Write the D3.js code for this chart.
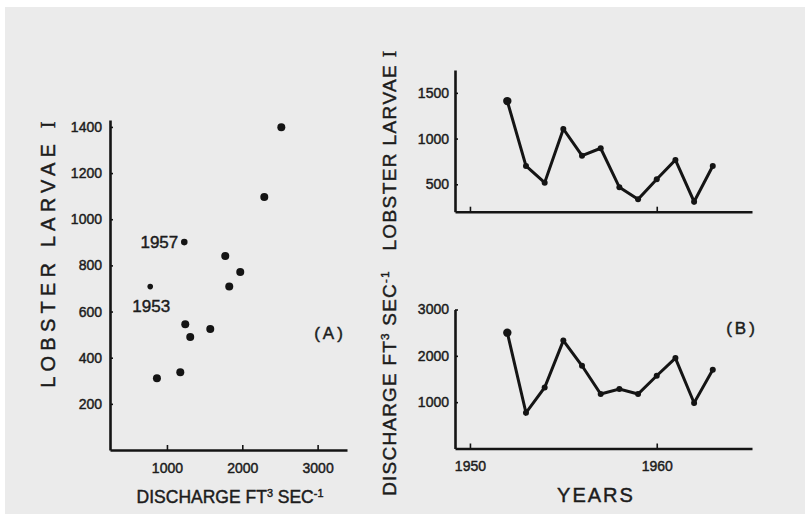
<!DOCTYPE html>
<html>
<head>
<meta charset="utf-8">
<script src="https://cdn.jsdelivr.net/npm/d3@7"></script>
<style>
  html, body { margin: 0; padding: 0; background: #fff; }
  svg { display: block; }
  text { font-family: "Liberation Sans", Arial, sans-serif; fill: #1c1c1c; stroke: #1c1c1c; stroke-width: 0.45px; }
</style>
</head>
<body>
<div id="chart"></div>
<script>
"use strict";

// panel A: scatter, discharge vs larvae (one dot per year)
var scatterDischarge = [2518, 2292, 1230, 1774, 1973, 1827, 778, 1243, 1309, 1575, 1177, 867];
var scatterLarvae = [1399, 1096, 901, 841, 771, 708, 708, 545, 490, 524, 337, 311];
var scatterSize = [4, 4, 3.3, 4, 4, 4, 2.8, 4, 4, 4, 4, 4];
var scatterNotes = [{ label: "1957", index: 2 }, { label: "1953", index: 6 }];

// panel B: time series
var years = [1952, 1953, 1954, 1955, 1956, 1957, 1958, 1959, 1960, 1961, 1962, 1963];
var larvae = [1410, 700, 517, 1105, 813, 894, 467, 336, 554, 766, 309, 700];
var discharge = [2500, 770, 1318, 2329, 1785, 1176, 1284, 1176, 1570, 1951, 983, 1699];

var xTicksA = [1000, 2000, 3000];
var yTicksA = [200, 400, 600, 800, 1000, 1200, 1400];
var yearTicks = [1950, 1960];
var larvaeTicksB = [500, 1000, 1500];
var dischargeTicksB = [1000, 2000, 3000];

var width = 805, height = 514;
var ink = "#141414";

var svg = d3.select("#chart").append("svg")
    .attr("width", width)
    .attr("height", height);

svg.append("rect").attr("width", width).attr("height", height).attr("fill", "#fff");
svg.append("rect").attr("x", 5).attr("y", 7)
    .attr("width", width - 5).attr("height", height - 7)
    .attr("fill", "#ebebeb");

function styleAxis(g, size) {
    g.select(".domain").attr("stroke", ink).attr("stroke-width", 2.6);
    g.selectAll(".tick line").attr("stroke", ink).attr("stroke-width", 1.6);
    g.selectAll(".tick text")
        .attr("font-family", "Liberation Sans, Arial, sans-serif")
        .attr("font-size", size)
        .attr("fill", "#1c1c1c");
}

function rotatedLabel(cx, cy, len, parts, size) {
    var t = svg.append("text")
        .attr("transform", "translate(" + cx + "," + cy + ") rotate(-90)")
        .attr("text-anchor", "middle")
        .attr("dy", "0.36em")
        .attr("font-size", size)
        .attr("letter-spacing", len);
    parts(t);
    return t;
}

function larvaeText(t) {
    t.append("tspan").text("LOBSTER LARVAE ");
    t.append("tspan").attr("font-family", "Liberation Serif, serif").text("I");
}

function dischargeText(t) {
    var fs = parseFloat(t.attr("font-size"));
    t.append("tspan").text("DISCHARGE FT");
    t.append("tspan").attr("font-size", fs * 0.62).attr("dy", -fs * 0.34).text("3");
    t.append("tspan").attr("dy", fs * 0.34).text(" SEC");
    t.append("tspan").attr("font-size", fs * 0.62).attr("dy", -fs * 0.34).text("-1");
}

// ---------- panel A ----------
var xA = d3.scaleLinear().domain([244, 3390]).range([110, 347]);
var yA = d3.scaleLinear().domain([0, 1430]).range([450, 120]);

var axA = svg.append("g")
    .attr("transform", "translate(0," + yA(0) + ")")
    .call(d3.axisBottom(xA).tickValues(xTicksA).tickFormat(d3.format("d"))
        .tickSizeInner(-5).tickSizeOuter(0).tickPadding(13));
styleAxis(axA, 14);

var ayA = svg.append("g")
    .attr("transform", "translate(" + xA.range()[0] + ",0)")
    .call(d3.axisLeft(yA).tickValues(yTicksA).tickFormat(d3.format("d"))
        .tickSizeInner(-3).tickSizeOuter(0).tickPadding(8));
styleAxis(ayA, 14);

svg.append("g").selectAll("circle")
    .data(scatterDischarge)
    .join("circle")
    .attr("cx", d => xA(d))
    .attr("cy", (d, i) => yA(scatterLarvae[i]))
    .attr("r", (d, i) => scatterSize[i])
    .attr("fill", ink);

svg.append("text")
    .attr("x", xA(scatterDischarge[2]) - 6)
    .attr("y", yA(scatterLarvae[2]) + 6)
    .attr("text-anchor", "end")
    .attr("font-size", 17)
    .text(scatterNotes[0].label);

svg.append("text")
    .attr("x", xA(scatterDischarge[6]) + 1)
    .attr("y", yA(scatterLarvae[6]) + 25)
    .attr("text-anchor", "middle")
    .attr("font-size", 17)
    .text(scatterNotes[1].label);

svg.append("text")
    .attr("x", 330).attr("y", 339)
    .attr("text-anchor", "middle")
    .attr("font-size", 17)
    .attr("letter-spacing", 3)
    .text("(A)");

var xlabA = svg.append("text")
    .attr("x", 230).attr("y", 503)
    .attr("text-anchor", "middle")
    .attr("font-size", 17.5);
dischargeText(xlabA);

rotatedLabel(48, 252, 5.2, larvaeText, 20);

// ---------- panel B ----------
var xB = d3.scaleLinear().domain([1949.2, 1965.1]).range([455, 752]);
var yTop = d3.scaleLinear().domain([200, 1750]).range([211.7, 70]);
var yBot = d3.scaleLinear().domain([0, 3000]).range([448.5, 309.5]);

function timePanel(yScale, ticks, values, showYears) {
    var base = yScale.range()[0];
    var ax = svg.append("g")
        .attr("transform", "translate(0," + base + ")")
        .call(d3.axisBottom(xB).tickValues(yearTicks).tickFormat(d3.format("d"))
            .tickSizeInner(-5).tickSizeOuter(0).tickPadding(13));
    styleAxis(ax, 14);
    if (!showYears) ax.selectAll(".tick text").remove();

    var ay = svg.append("g")
        .attr("transform", "translate(" + xB.range()[0] + ",0)")
        .call(d3.axisLeft(yScale).tickValues(ticks).tickFormat(d3.format("d"))
            .tickSizeInner(-3).tickSizeOuter(0).tickPadding(6));
    styleAxis(ay, 14);

    var line = d3.line()
        .x((d, i) => xB(years[i]))
        .y(d => yScale(d));

    svg.append("path")
        .datum(values)
        .attr("d", line)
        .attr("fill", "none")
        .attr("stroke", ink)
        .attr("stroke-width", 3)
        .attr("stroke-linejoin", "miter");

    svg.append("g").selectAll("circle")
        .data(values)
        .join("circle")
        .attr("cx", (d, i) => xB(years[i]))
        .attr("cy", d => yScale(d))
        .attr("r", (d, i) => i === 0 ? 4.2 : 3)
        .attr("fill", ink);
}

timePanel(yTop, larvaeTicksB, larvae, false);
timePanel(yBot, dischargeTicksB, discharge, true);

svg.append("text")
    .attr("x", 742).attr("y", 334)
    .attr("text-anchor", "middle")
    .attr("font-size", 17)
    .attr("letter-spacing", 3)
    .text("(B)");

svg.append("text")
    .attr("x", 596).attr("y", 502)
    .attr("text-anchor", "middle")
    .attr("font-size", 20)
    .attr("letter-spacing", 2)
    .text("YEARS");

rotatedLabel(389, 150, 1.4, larvaeText, 19);
rotatedLabel(389, 383, 1.2, dischargeText, 19);
</script>
</body>
</html>
